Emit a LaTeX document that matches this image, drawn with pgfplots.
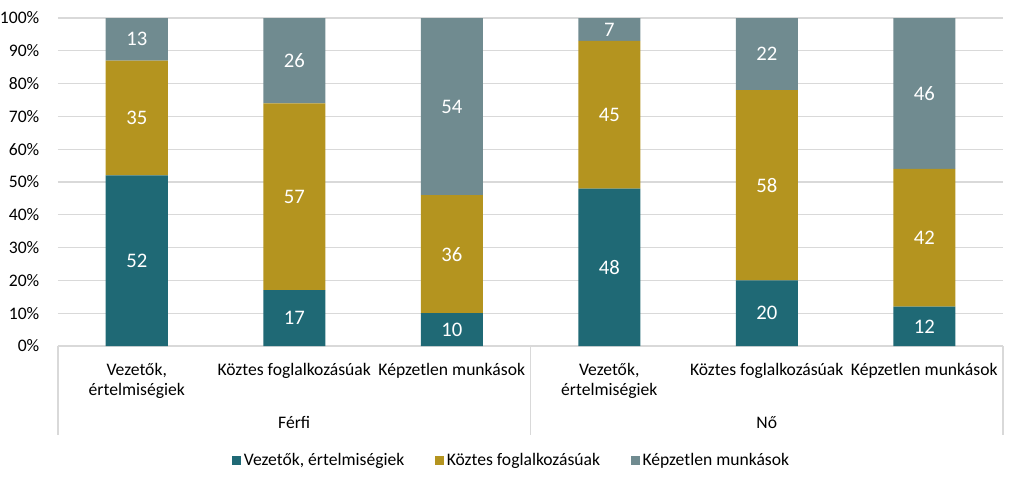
\documentclass[border=0pt]{standalone}
\usepackage{fontspec}
\setmainfont{Carlito}
\usepackage{pgfplots}
\pgfplotsset{compat=1.18}
\definecolor{cA}{RGB}{31,105,117}
\definecolor{cB}{RGB}{180,148,31}
\definecolor{cC}{RGB}{112,139,144}
\definecolor{gridc}{RGB}{217,217,217}
\begin{document}
\begin{tikzpicture}
\path[use as bounding box] (-43.5pt,-105.75pt) rectangle (724.5pt,259.5pt);
\begin{axis}[
 at={(0pt,0pt)}, anchor=south west,
 scale only axis, width=708.75pt, height=246pt,
 ybar stacked, bar width=46.5pt,
 xmin=-0.5, xmax=5.5, ymin=0, ymax=100,
 xtick={0,...,5},
 xticklabels={{Vezetők,\\értelmiségiek},{Köztes foglalkozásúak},{Képzetlen munkások},{Vezetők,\\értelmiségiek},{Köztes foglalkozásúak},{Képzetlen munkások}},
 xticklabel style={align=center, font=\fontsize{13.2}{15.2}\selectfont, yshift=-9.5pt},
 ytick={0,10,...,100},
 yticklabel={\pgfmathprintnumber{\tick}\%},
 yticklabel style={font=\fontsize{13.2}{15}\selectfont, xshift=-10.5pt},
 /pgf/number format/assume math mode=true,
 axis line style={draw=none},
 tick style={draw=none},
 ymajorgrids, grid style={gridc, line width=0.8pt},
 clip=false,
 legend style={at={(0.4804,-0.348)}, anchor=center, draw=none, fill=none,
   legend columns=3, font=\fontsize{13.2}{15}\selectfont,
   /tikz/every even column/.append style={column sep=21pt}},
 legend image code/.code={\fill[#1] (0pt,-3.4pt) rectangle (6.8pt,3.4pt);},
]
\addplot[fill=cA, draw=none] coordinates {(0,52) (1,17) (2,10) (3,48) (4,20) (5,12)};
\addlegendentry{Vezetők, értelmiségiek}
\addplot[fill=cB, draw=none] coordinates {(0,35) (1,57) (2,36) (3,45) (4,58) (5,42)};
\addlegendentry{Köztes foglalkozásúak}
\addplot[fill=cC, draw=none] coordinates {(0,13) (1,26) (2,54) (3,7) (4,22) (5,46)};
\addlegendentry{Képzetlen munkások}
\draw[gridc, line width=0.8pt] (axis cs:-0.5,0) -- ([yshift=-66.75pt]axis cs:-0.5,0);
\draw[gridc, line width=0.8pt] (axis cs:2.5,0) -- ([yshift=-66.75pt]axis cs:2.5,0);
\draw[gridc, line width=0.8pt] (axis cs:5.5,0) -- ([yshift=-66.75pt]axis cs:5.5,0);
\node[anchor=base, font=\fontsize{13.2}{15}\selectfont] at ([yshift=-62pt]axis cs:1,0) {Férfi};
\node[anchor=base, font=\fontsize{13.2}{15}\selectfont] at ([yshift=-62pt]axis cs:4,0) {Nő};
\end{axis}
\begin{axis}[
 at={(0pt,0pt)}, anchor=south west,
 scale only axis, width=708.75pt, height=246pt,
 xmin=-0.5, xmax=5.5, ymin=0, ymax=100,
 hide axis, clip=false,
]
\addplot[draw=none, mark=none, nodes near coords, point meta=explicit symbolic,
  nodes near coords style={text=white, anchor=center, font=\fontsize{15.5}{17}\selectfont}]
 table[meta=l] {
x y l
0 26 52
0 69.5 35
0 93.5 13
1 8.5 17
1 45.5 57
1 87 26
2 5 10
2 28 36
2 73 54
3 24 48
3 70.5 45
3 96.5 7
4 10 20
4 49 58
4 89 22
5 6 12
5 33 42
5 77 46
};
\end{axis}
\end{tikzpicture}
\end{document}
